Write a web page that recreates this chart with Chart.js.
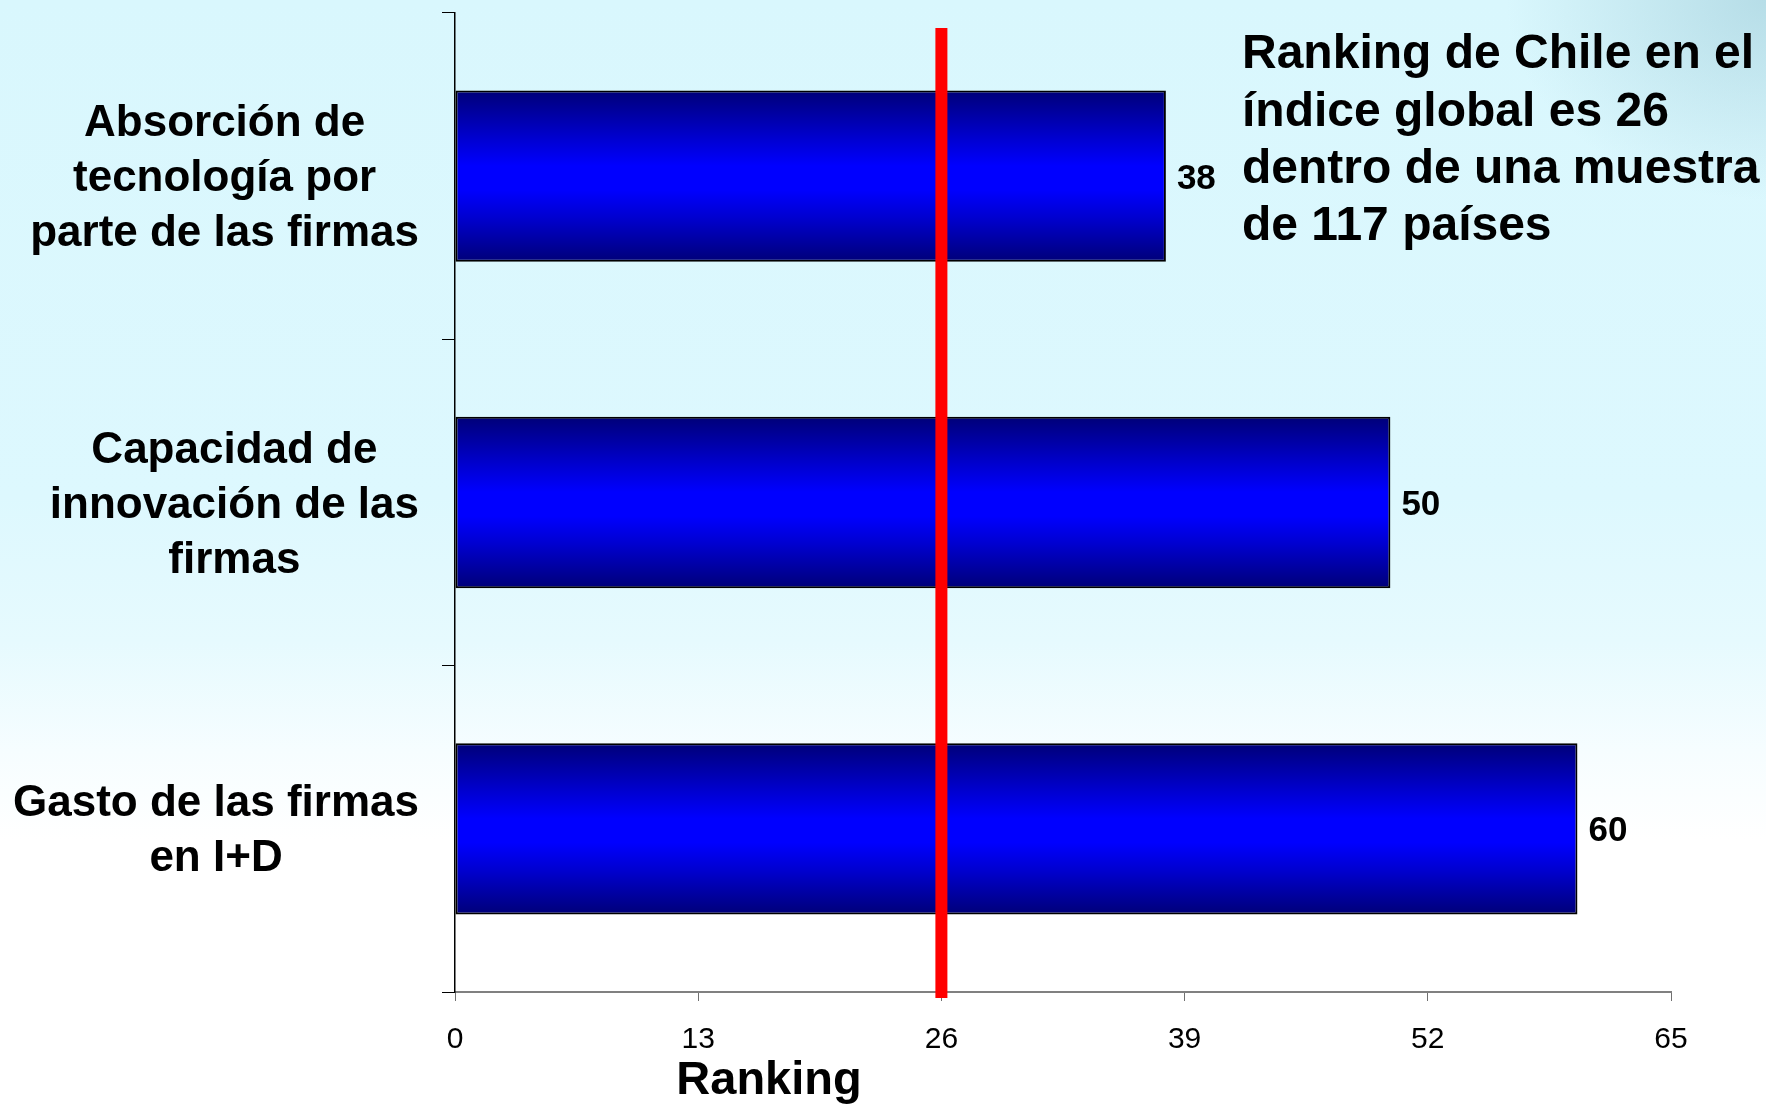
<!DOCTYPE html>
<html lang="es">
<head>
<meta charset="utf-8">
<title>Ranking de Chile</title>
<script src="https://cdn.jsdelivr.net/npm/chart.js@4/dist/chart.umd.min.js"></script>
<style>
    html, body {
        margin: 0;
        padding: 0;
        width: 1766px;
        height: 1105px;
        overflow: hidden;
    }
    body {
        background:
            radial-gradient(ellipse 260px 200px at 100% 0%, rgba(140, 190, 205, 0.45), rgba(140, 190, 205, 0) 100%),
            linear-gradient(to bottom, #d9f7fd 0%, #ddf8fe 45%, #e6fafe 58%, #f6fdff 68%, #ffffff 76%, #ffffff 100%);
    }
    #chart-wrap {
        position: absolute;
        left: 0;
        top: 0;
        width: 1766px;
        height: 1105px;
    }
</style>
</head>
<body>
<div id="chart-wrap">
    <canvas id="ranking-chart" width="1766" height="1105"></canvas>
</div>
<script>
// Data
const categories = [
    ['Absorción de', 'tecnología por', 'parte de las firmas'],
    ['Capacidad de', 'innovación de las', 'firmas'],
    ['Gasto de las firmas', 'en I+D']
];
const rankings = [38, 50, 60];
const xTicks = [0, 13, 26, 39, 52, 65];
const chileRank = 26;
const noteLines = [
    'Ranking de Chile en el',
    'índice global es 26',
    'dentro de una muestra',
    'de 117 países'
];
const axisTitle = 'Ranking';

// Styling
const FONT = "'Liberation Sans', Arial, Helvetica, sans-serif";
const BAR_PCT = 0.525;
const CAT_FONT_SIZE = 44;
const CAT_LINE_HEIGHT = 55;

// Vertical navy -> blue -> navy fill for each bar
function barGradient(ctx) {
    const chart = ctx.chart;
    if (!chart.chartArea || !chart.scales.y) return '#0000ff';
    const yScale = chart.scales.y;
    const center = yScale.getPixelForValue(ctx.dataIndex);
    const half = (yScale.height / categories.length) * BAR_PCT / 2;
    const g = chart.ctx.createLinearGradient(0, center - half, 0, center + half);
    g.addColorStop(0, '#000078');
    g.addColorStop(0.28, '#0000d0');
    g.addColorStop(0.44, '#0000ff');
    g.addColorStop(0.58, '#0000ff');
    g.addColorStop(0.74, '#0000d0');
    g.addColorStop(1, '#000078');
    return g;
}

// Category labels: each block right-aligned on its widest line, lines centred within it
const categoryLabelPlugin = {
    id: 'categoryLabels',
    afterDraw(chart) {
        const ctx = chart.ctx;
        const yScale = chart.scales.y;
        const rightEdge = yScale.right - 36;

        ctx.save();
        ctx.fillStyle = '#000';
        ctx.font = `bold ${CAT_FONT_SIZE}px ${FONT}`;
        ctx.textAlign = 'center';
        ctx.textBaseline = 'middle';
        categories.forEach((lines, i) => {
            const widest = Math.max(...lines.map(l => ctx.measureText(l).width));
            const cx = rightEdge - widest / 2;
            const cy = yScale.getPixelForValue(i) + 3;
            const y0 = cy - (lines.length - 1) * CAT_LINE_HEIGHT / 2;
            lines.forEach((line, j) => ctx.fillText(line, cx, y0 + j * CAT_LINE_HEIGHT));
        });
        ctx.restore();
    }
};

// Value labels next to the bars, red reference line, note and axis title
const overlayPlugin = {
    id: 'overlay',
    afterDatasetsDraw(chart) {
        const ctx = chart.ctx;
        const area = chart.chartArea;
        const xScale = chart.scales.x;

        ctx.save();
        // value labels
        ctx.fillStyle = '#000';
        ctx.font = `bold 35px ${FONT}`;
        ctx.textAlign = 'left';
        ctx.textBaseline = 'middle';
        chart.getDatasetMeta(0).data.forEach((bar, i) => {
            ctx.fillText(String(rankings[i]), bar.x + 11, bar.y + 3);
        });

        // Chile's global rank
        const xr = xScale.getPixelForValue(chileRank);
        ctx.fillStyle = '#ff0000';
        ctx.fillRect(xr - 6, area.top + 15, 12, area.bottom - area.top - 9);

        // note text
        ctx.fillStyle = '#000';
        ctx.font = `bold 48px ${FONT}`;
        noteLines.forEach((line, i) => {
            ctx.fillText(line, 1242, 55 + i * 57.3);
        });

        // axis title
        ctx.font = `bold 47px ${FONT}`;
        ctx.textAlign = 'center';
        ctx.fillText(axisTitle, 769, 1081);
        ctx.restore();
    }
};

const ctx = document.getElementById('ranking-chart').getContext('2d');
const chart = new Chart(ctx, {
    type: 'bar',
    data: {
        labels: categories,
        datasets: [{
            label: 'Ranking',
            data: rankings,
            backgroundColor: barGradient,
            borderColor: '#000000',
            borderWidth: 2,
            borderSkipped: false,
            categoryPercentage: 1,
            barPercentage: BAR_PCT
        }]
    },
    options: {
        indexAxis: 'y',
        responsive: false,
        devicePixelRatio: 1,
        animation: false,
        layout: {
            padding: { top: 13, right: 95, bottom: 0, left: 0 }
        },
        plugins: {
            legend: { display: false },
            tooltip: { enabled: false }
        },
        scales: {
            x: {
                type: 'linear',
                min: 0,
                max: 65,
                afterBuildTicks: scale => {
                    scale.ticks = xTicks.map(v => ({ value: v }));
                },
                afterFit: scale => {
                    scale.height = 113;
                    scale.paddingLeft = 0;
                    scale.paddingRight = 0;
                },
                border: { color: '#808080', width: 2 },
                grid: {
                    drawOnChartArea: false,
                    drawTicks: true,
                    tickLength: 9,
                    tickColor: '#707070',
                    tickWidth: 1
                },
                ticks: {
                    color: '#000',
                    padding: 21,
                    maxRotation: 0,
                    font: { family: FONT, size: 30 }
                }
            },
            y: {
                afterFit: scale => {
                    scale.width = 455;
                    scale.paddingTop = 0;
                    scale.paddingBottom = 0;
                },
                border: { color: '#000000', width: 1.5 },
                grid: {
                    drawOnChartArea: false,
                    drawTicks: true,
                    tickLength: 13,
                    tickColor: '#000000',
                    tickWidth: 1
                },
                ticks: {
                    display: false
                }
            }
        }
    },
    plugins: [overlayPlugin, categoryLabelPlugin]
});
</script>
</body>
</html>
